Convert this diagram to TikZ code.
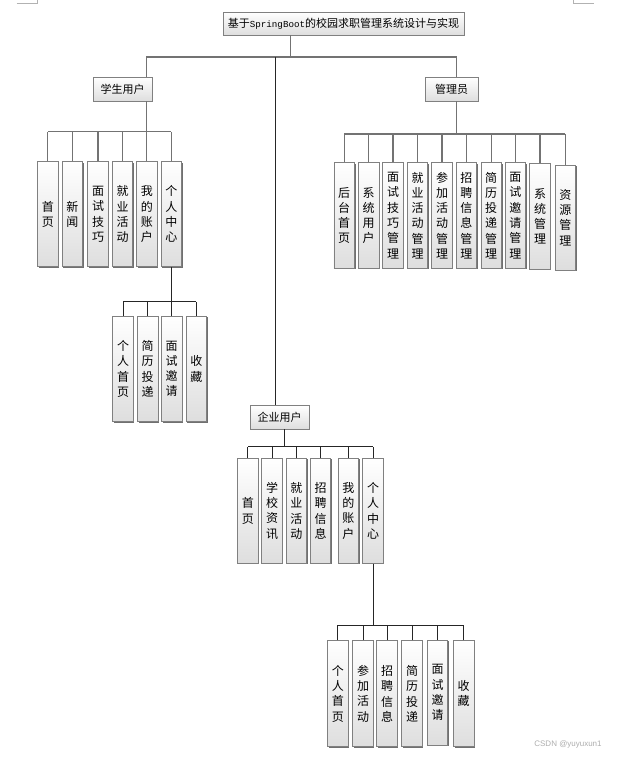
\documentclass[tikz,border=0pt]{standalone}
\usepackage{fontspec}
\setmainfont{Liberation Sans}
\newfontfamily\cjk{Noto Sans CJK SC}
\newfontfamily\monof{Liberation Mono}
\usetikzlibrary{shadows}
\tikzset{
  box/.style={draw=black!50, line width=0.8pt, top color=white, bottom color=black!13,
    drop shadow={shadow xshift=1.1pt, shadow yshift=-1.1pt, fill=black!70, opacity=0.8},
    inner sep=0pt, anchor=center, font=\cjk\fontsize{11}{13}\selectfont},
  leaf/.style={box, minimum width=20.5pt, minimum height=105pt, align=center,
    font=\cjk\fontsize{12}{15.3}\selectfont},
  gline/.style={draw=black!55, line width=1.1pt},
  dline/.style={draw=black!85, line width=1pt},
}
\begin{document}
\begin{tikzpicture}[x=1pt, y=-1pt]
\useasboundingbox (0,0) rectangle (631,757);
% page corner marks
\draw[black!30, line width=0.6pt] (16.7,3.3) -- (37.7,3.3) -- (37.7,0);
\draw[black!30, line width=0.6pt] (573.3,0) -- (573.3,3.3) -- (594.3,3.3);

% level coordinates
\coordinate (tb) at (0,57);
\coordinate (busS) at (0,131.7);
\coordinate (busA) at (0,134);
\coordinate (busP) at (0,301.7);
\coordinate (busE) at (0,446.7);
\coordinate (busQ) at (0,625);
\coordinate (tX) at (290.5,0);
\coordinate (aX) at (456.5,0);
\coordinate (mX) at (275.7,0);
\coordinate (eX) at (284.3,0);

% top nodes
\node[box, minimum width=241pt, minimum height=23pt] (title) at (343.5,23.5)
  {基于{\monof\fontsize{9.2}{13}\selectfont SpringBoot}的校园求职管理系统设计与实现};
\node[box, minimum width=59pt, minimum height=24pt] (stu) at (122.5,89) {学生用户};
\node[box, minimum width=53pt, minimum height=24pt] (adm) at (451.5,89) {管理员};
\node[box, minimum width=59pt, minimum height=23.5pt] (ent) at (279.5,417.3) {企业用户};

% student leaves
\node[leaf] (s1) at (47.8,214.2) {首\\页};
\node[leaf] (s2) at (72.3,214.2) {新\\闻};
\node[leaf] (s3) at (98,214.2) {面\\试\\技\\巧};
\node[leaf] (s4) at (122.5,214.2) {就\\业\\活\\动};
\node[leaf] (s5) at (146.8,214.2) {我\\的\\账\\户};
\node[leaf] (s6) at (171.3,214.2) {个\\人\\中\\心};

% student personal centre leaves
\node[leaf, minimum height=105.7pt] (p1) at (123,368.8) {个\\人\\首\\页};
\node[leaf, minimum height=105.7pt] (p2) at (147.7,368.8) {简\\历\\投\\递};
\node[leaf, minimum height=105.7pt] (p3) at (171.7,368.8) {面\\试\\邀\\请};
\node[leaf, minimum height=105.7pt] (p4) at (196.3,368.8) {收\\藏};

% admin leaves
\node[leaf, minimum height=105.6pt] (a1) at (344.2,215.5) {后\\台\\首\\页};
\node[leaf, minimum height=105.6pt] (a2) at (368.7,215.5) {系\\统\\用\\户};
\node[leaf, minimum height=105.6pt] (a3) at (393,215.5) {面\\试\\技\\巧\\管\\理};
\node[leaf, minimum height=105.6pt] (a4) at (417.5,215.5) {就\\业\\活\\动\\管\\理};
\node[leaf, minimum height=105.6pt] (a5) at (442,215.5) {参\\加\\活\\动\\管\\理};
\node[leaf, minimum height=105.6pt] (a6) at (466.3,215.5) {招\\聘\\信\\息\\管\\理};
\node[leaf, minimum height=105.6pt] (a7) at (491.2,215.5) {简\\历\\投\\递\\管\\理};
\node[leaf, minimum height=105.6pt] (a8) at (515.3,215.5) {面\\试\\邀\\请\\管\\理};
\node[leaf, minimum height=106pt] (a9) at (540,216.3) {系\\统\\管\\理};
\node[leaf, minimum height=105pt] (a10) at (565.3,217.5) {资\\源\\管\\理};

% enterprise leaves
\node[leaf] (e1) at (247.8,510.8) {首\\页};
\node[leaf] (e2) at (272,510.8) {学\\校\\资\\讯};
\node[leaf] (e3) at (296.3,510.8) {就\\业\\活\\动};
\node[leaf] (e4) at (320.5,510.8) {招\\聘\\信\\息};
\node[leaf] (e5) at (348.3,510.8) {我\\的\\账\\户};
\node[leaf] (e6) at (373,510.8) {个\\人\\中\\心};

% enterprise personal centre leaves
\node[leaf, minimum height=106pt] (q1) at (337.8,693.7) {个\\人\\首\\页};
\node[leaf, minimum height=106pt] (q2) at (363,693.7) {参\\加\\活\\动};
\node[leaf, minimum height=106pt] (q3) at (387,693.7) {招\\聘\\信\\息};
\node[leaf, minimum height=106pt] (q4) at (412,693.7) {简\\历\\投\\递};
\node[leaf, minimum height=105pt] (q5) at (437.5,692.5) {面\\试\\邀\\请};
\node[leaf, minimum height=106pt] (q6) at (463.7,693.7) {收\\藏};

% watermark
\node[text=black!32, font=\fontsize{8}{9}\selectfont] (wm) at (568,744) {CSDN @yuyuxun1};

% ---- connectors ----
% title to level 1
\draw[gline] (title.south -| tX) -- (tX |- tb);
\draw[gline] (stu.north -| s5.north) -- (s5.north |- tb) -- (aX |- tb) -- (adm.north -| aX);
\draw[dline] (mX |- tb) -- (ent.north -| mX);

% student
\draw[gline] (stu.south -| s5.north) -- (s5.north);
\draw[gline] (s1.north |- busS) -- (s6.north |- busS);
\foreach \n in {s1,s2,s3,s4,s6} \draw[gline] (\n.north) -- (\n.north |- busS);

% student personal centre
\draw[dline] (s6.south) -- (s6.south |- busP);
\draw[dline] (p1.north |- busP) -- (p4.north |- busP);
\foreach \n in {p1,p2,p3,p4} \draw[dline] (\n.north) -- (\n.north |- busP);

% admin
\draw[gline] (adm.south -| aX) -- (aX |- busA);
\draw[gline] (a1.north |- busA) -- (a10.north |- busA);
\foreach \n in {a1,a2,a3,a4,a5,a6,a7,a8,a9,a10} \draw[gline] (\n.north) -- (\n.north |- busA);

% enterprise
\draw[dline] (ent.south -| eX) -- (eX |- busE);
\draw[dline] (e1.north |- busE) -- (e6.north |- busE);
\foreach \n in {e1,e2,e3,e4,e5,e6} \draw[dline] (\n.north) -- (\n.north |- busE);

% enterprise personal centre
\draw[dline] (e6.south) -- (e6.south |- busQ);
\draw[dline] (q1.north |- busQ) -- (q6.north |- busQ);
\foreach \n in {q1,q2,q3,q4,q5,q6} \draw[dline] (\n.north) -- (\n.north |- busQ);
\end{tikzpicture}
\end{document}
